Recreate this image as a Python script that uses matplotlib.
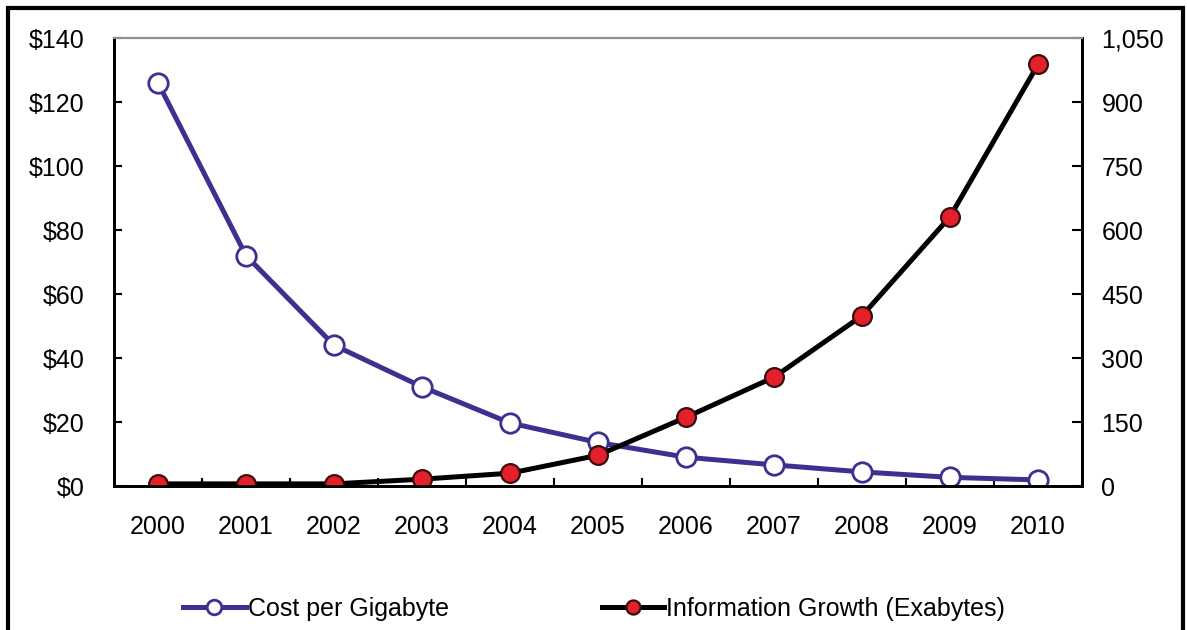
"""Cost per gigabyte vs information growth, 2000-2010."""

import matplotlib

matplotlib.use("Agg")
import numpy as np
from matplotlib import patches, pyplot as plt
from matplotlib.ticker import FuncFormatter, FixedLocator

plt.rcParams["font.family"] = ["Liberation Sans", "DejaVu Sans"]
plt.rcParams["font.size"] = 18

years = ["2000", "2001", "2002", "2003", "2004", "2005",
         "2006", "2007", "2008", "2009", "2010"]
cost_per_gb = [126, 72, 44, 31, 19.7, 13.6, 9.0, 6.6, 4.4, 2.7, 1.9]
info_growth = [5, 5, 5, 16, 30, 72, 161, 255, 399, 631, 988]

BLUE = "#3b3190"
RED = "#e4202c"

W, H = 1187, 630
fig = plt.figure(figsize=(W / 100, H / 100), dpi=100)
ax = fig.add_axes([114 / W, 1 - 486 / H, (1082 - 114) / W, (486 - 38) / H])
ax2 = ax.twinx()

x = np.arange(len(years))
(cost_line,) = ax.plot(
    x, cost_per_gb, color=BLUE, linewidth=3.6, marker="o", markersize=14,
    markerfacecolor="white", markeredgecolor=BLUE, markeredgewidth=2,
    label="Cost per Gigabyte",
)
(info_line,) = ax2.plot(
    x, info_growth, color="black", linewidth=3.6, marker="o", markersize=13.5,
    markerfacecolor=RED, markeredgecolor="#3a0c0c", markeredgewidth=1.6,
    label="Information Growth (Exabytes)",
)

ax.set_xlim(-0.5, len(years) - 0.5)
ax.set_ylim(0, 140)
ax2.set_ylim(0, 1050)
ax.set_yticks(np.arange(0, 141, 20))
ax2.set_yticks(np.arange(0, 1051, 150))
ax.yaxis.set_major_formatter(FuncFormatter(lambda v, _: f"${v:.0f}"))
ax2.yaxis.set_major_formatter(FuncFormatter(lambda v, _: f"{v:,.0f}"))

ax.set_xticks(x)
ax.set_xticklabels(years)
ax.xaxis.set_minor_locator(FixedLocator(x[:-1] + 0.5))
ax.tick_params(axis="x", which="major", length=0, pad=21)
ax.tick_params(axis="x", which="minor", direction="in", length=6, width=1.5)
ax.tick_params(axis="y", direction="in", length=6, width=1.5, pad=21)
ax2.tick_params(axis="y", direction="in", length=7, width=1.5, pad=14)

for a in (ax, ax2):
    for side in ("left", "right", "bottom"):
        a.spines[side].set_linewidth(2)
    a.spines["top"].set_color("#8f8f8f")
    a.spines["top"].set_linewidth(1.5)

fig.legend(
    [cost_line, info_line],
    [cost_line.get_label(), info_line.get_label()],
    ncol=2, frameon=False, loc="center left",
    bbox_to_anchor=(183 / W, 1 - 609 / H),
    borderpad=0, borderaxespad=0, handlelength=2.5, handletextpad=0.1,
    columnspacing=6.1, markerscale=0.75, fontsize=18,
)

# outer frame of the original image
fig.patches.append(patches.Rectangle(
    (8 / W, -0.1), (1183 - 8) / W, 1.1 - 8 / H,
    transform=fig.transFigure, fill=False, edgecolor="black", linewidth=3,
))

fig.savefig("out.png", dpi=100, facecolor="white")
